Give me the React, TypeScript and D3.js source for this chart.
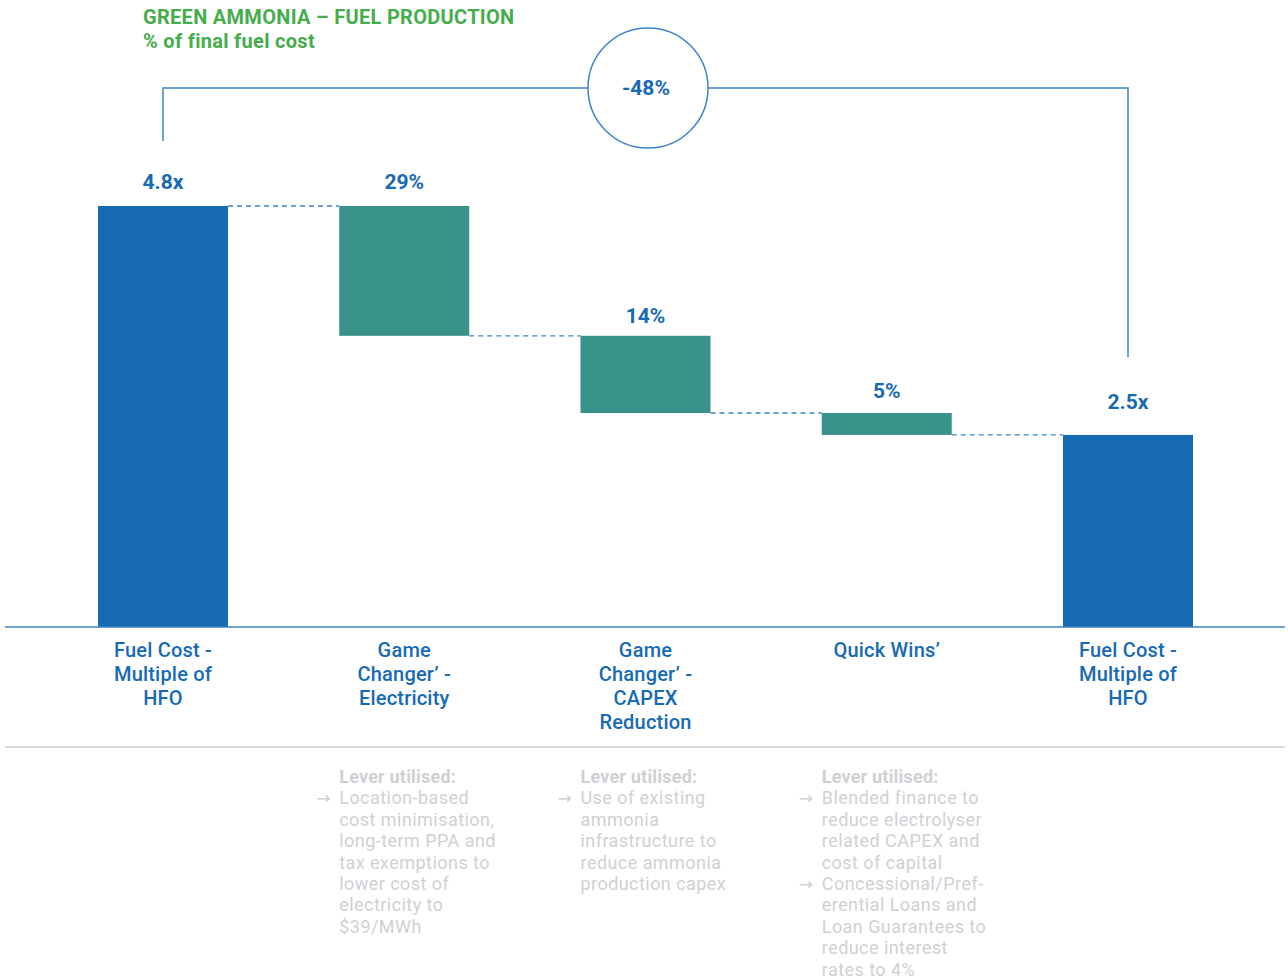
import React from "react";
import * as d3 from "d3";

const categories = ["start", "elec", "capex", "quick", "end"];
const categoryLabels = [
  ["Fuel Cost -", "Multiple of", "HFO"],
  ["Game", "Changer’ -", "Electricity"],
  ["Game", "Changer’ -", "CAPEX", "Reduction"],
  ["Quick Wins’"],
  ["Fuel Cost -", "Multiple of", "HFO"],
];
const startValue = 4.8;
const stepDrops = [1.48, 0.88, 0.25];
const valueLabels = ["4.8x", "29%", "14%", "5%", "2.5x"];
const totalChangeLabel = "-48%";
const titleLines = ["GREEN AMMONIA – FUEL PRODUCTION", "% of final fuel cost"];
const leverNotes: (string[][] | null)[] = [
  null,
  [["Location-based", "cost minimisation,", "long-term PPA and", "tax exemptions to", "lower cost of", "electricity to", "$39/MWh"]],
  [["Use of existing", "ammonia", "infrastructure to", "reduce ammonia", "production capex"]],
  [
    ["Blended finance to", "reduce electrolyser", "related CAPEX and", "cost of capital"],
    ["Concessional/Pref-", "erential Loans and", "Loan Guarantees to", "reduce interest", "rates to 4%"],
  ],
  null,
];

const W = 1288;
const H = 979;
const BLUE = "#176ab4";
const TEAL = "#38928a";
const LINE_BLUE = "#3d82c6";
const GREEN = "#46ad4c";
const GREY = "#d2cfd4";
const FONT = "Roboto, 'Noto Sans', sans-serif";
const labelGaps = [17, 17, 13, 15, 26];

export default function App() {
  const x = d3.scalePoint<string>().domain(categories).range([163, 1128]);
  const y = d3.scaleLinear().domain([0, startValue]).range([627, 206]);
  const barW = 130;

  type Seg = { key: string; y0: number; y1: number; color: string };
  const segs: Seg[] = [];
  let level = startValue;
  segs.push({ key: categories[0], y0: 0, y1: startValue, color: BLUE });
  stepDrops.forEach((d, i) => {
    segs.push({ key: categories[i + 1], y0: level - d, y1: level, color: TEAL });
    level -= d;
  });
  segs.push({ key: categories[4], y0: 0, y1: level, color: BLUE });

  const circleX = 648;
  const bracketY = 88;
  const r = 60;
  const firstX = x(categories[0])!;
  const lastX = x(categories[4])!;

  return (
    <svg width={W} height={H} style={{ position: "absolute", left: 0, top: 0, fontFamily: FONT }}>
      <rect width={W} height={H} fill="#fff" />
      <text x={143} y={24} fill={GREEN} fontWeight={700} fontSize={20} letterSpacing={0.3}>{titleLines[0]}</text>
      <text x={143} y={48} fill={GREEN} fontWeight={700} fontSize={20} letterSpacing={0.3}>{titleLines[1]}</text>

      <path
        d={`M${firstX},141 V${bracketY} H${lastX} V357`}
        fill="none"
        stroke={LINE_BLUE}
        strokeWidth={1.5}
      />
      <circle cx={circleX} cy={bracketY} r={r} fill="#fff" stroke={LINE_BLUE} strokeWidth={1.5} />
      <text x={circleX - 2} y={bracketY + 7} textAnchor="middle" fill={BLUE} fontWeight={700} fontSize={21}>
        {totalChangeLabel}
      </text>

      {segs.slice(0, -1).map((s, i) => {
        const lv = i === 0 ? s.y1 : s.y0;
        const x1 = x(s.key)! + barW / 2;
        const x2 = x(segs[i + 1].key)! - barW / 2;
        return (
          <line key={"c" + i} x1={x1} x2={x2} y1={y(lv)} y2={y(lv)} stroke={LINE_BLUE} strokeWidth={1.3} strokeDasharray="5,4" />
        );
      })}

      {segs.map((s, i) => (
        <g key={s.key}>
          <rect x={x(s.key)! - barW / 2} y={y(s.y1)} width={barW} height={y(s.y0) - y(s.y1)} fill={s.color} />
          <text x={x(s.key)!} y={y(s.y1) - labelGaps[i]} textAnchor="middle" fill={BLUE} fontWeight={700} fontSize={21}>
            {valueLabels[i]}
          </text>
        </g>
      ))}

      <line x1={5} x2={1285} y1={y(0)} y2={y(0)} stroke={LINE_BLUE} strokeWidth={1.5} />
      <line x1={5} x2={1285} y1={747} y2={747} stroke="#cfcfcf" strokeWidth={1.5} />

      {categories.map((c, i) => (
        <text key={"l" + c} textAnchor="middle" fill={BLUE} fontSize={20} fontWeight={500} letterSpacing={0.2}>
          {categoryLabels[i].map((ln, j) => (
            <tspan key={j} x={x(c)!} y={657 + j * 24}>{ln}</tspan>
          ))}
        </text>
      ))}

      {categories.map((c, i) => {
        const notes = leverNotes[i];
        if (!notes) return null;
        const lx = x(c)! - 65;
        const lh = 21.4;
        let row = 1;
        const items: React.ReactNode[] = [];
        notes.forEach((group, gi) => {
          items.push(
            <text key={"a" + gi} x={lx - 23} y={783 + row * lh} fill={GREY} fontSize={17} fontFamily="'DejaVu Sans', sans-serif">→</text>
          );
          group.forEach((ln, li) => {
            items.push(
              <text key={"t" + gi + "-" + li} x={lx} y={783 + row * lh} fill={GREY} fontSize={18} letterSpacing={0.45}>{ln}</text>
            );
            row++;
          });
        });
        return (
          <g key={"n" + c}>
            <text x={lx} y={783} fill={GREY} fontSize={18} fontWeight={700} letterSpacing={0.2}>Lever utilised:</text>
            {items}
          </g>
        );
      })}
    </svg>
  );
}
